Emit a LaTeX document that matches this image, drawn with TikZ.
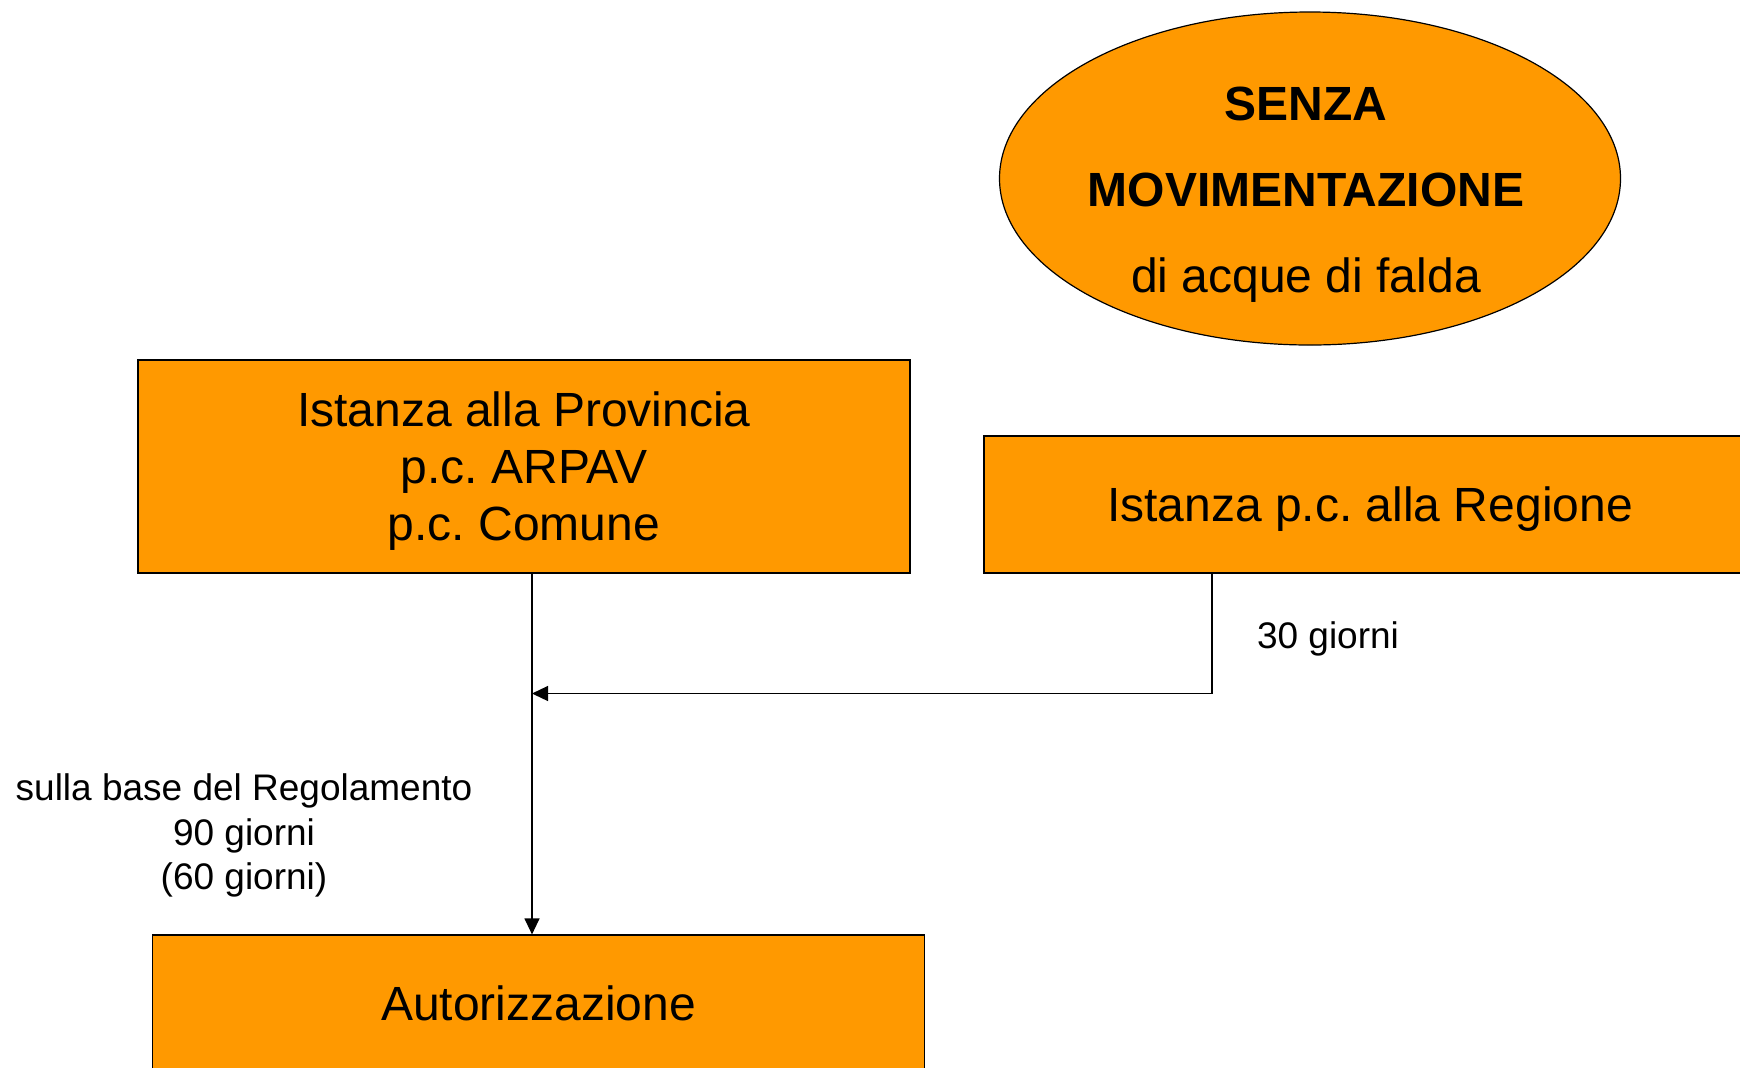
\documentclass[tikz,border=0pt]{standalone}
\usepackage{fontspec}
\setmainfont{Liberation Sans}
\frenchspacing
\usetikzlibrary{
  arrows.meta,
  shapes.geometric,
}
\definecolor{arancio}{RGB}{255, 153, 0}
\tikzstyle{box} = [
  draw=black,
  fill=arancio,
  line width=0.6pt,
  minimum width=386pt,
  align=center,
  text depth=0pt,
  font=\fontsize{24}{28.5}\selectfont,
]
\tikzstyle{oval} = [
  ellipse,
  draw=black,
  fill=arancio,
  line width=0.6pt,
  minimum width=310.5pt,
  minimum height=166.5pt,
  inner sep=0pt,
]
\tikzstyle{arrow} = [
  -{Triangle[length=8pt,width=7.5pt]},
  line width=0.6pt,
]
\tikzstyle{note} = [
  font=\fontsize{18.5}{22.2}\selectfont,
  align=center,
]

\begin{document}
\begin{tikzpicture}[x=0.5pt, y=-0.5pt]

        \useasboundingbox (0,0) rectangle (1740,1067);
        \clip (0,0) rectangle (1740,1067);

        \node [oval] (movim) at (1310,178.5) {};
        \node [font=\fontsize{24}{43}\selectfont, align=center] (movimtxt)
              at ([xshift=-2pt, yshift=-8pt]movim.center)
              {\textbf{SENZA}\\ \textbf{MOVIMENTAZIONE}\\ di acque di falda};

        \node [box, minimum height=106.5pt] (prov) at (524,466.5)
              {Istanza alla Provincia\\ p.c. ARPAV\\ p.c. Comune};

        \node [box, minimum height=68.5pt] (reg) at (1370,504.5)
              {Istanza p.c. alla Regione};

        \node [box, minimum height=68.5pt] (aut) at (538.5,1003.5)
              {Autorizzazione};

        \coordinate (join) at (532,693.5);
        \coordinate (turn) at (1212,693.5);

        \draw [arrow] (prov.south -| join) -- (aut.north -| join);
        \draw [arrow] (reg.south -| turn) |- (join);

        \node [note] (giorni30) at (1328,638.5) {30 giorni};

        \node [note] (regolamento) at (244,835.5)
              {sulla base del Regolamento\\ 90 giorni\\ (60 giorni)};
      \end{tikzpicture}
\end{document}
